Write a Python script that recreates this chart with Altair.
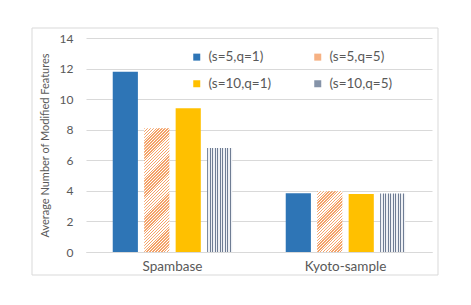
import altair as alt
import pandas as pd

datasets = ["Spambase", "Kyoto-sample"]
series = ["(s=5,q=1)", "(s=5,q=5)", "(s=10,q=1)", "(s=10,q=5)"]
values = {
    "(s=5,q=1)": [11.8, 3.85],
    "(s=5,q=5)": [8.1, 3.97],
    "(s=10,q=1)": [9.4, 3.8],
    "(s=10,q=5)": [6.8, 3.82],
}
colors = ["#2E75B6", "#F6B183", "#FFC000", "#8593A8"]
y_ticks = [0, 2, 4, 6, 8, 10, 12, 14]

rows = []
for s in series:
    for d, v in zip(datasets, values[s]):
        rows.append({"dataset": d, "series": s, "value": v})
df = pd.DataFrame(rows)

W, H = 346, 214
YMAX = 14
FONT = "Lato"
TXT = "#595959"
GRID = "#D9D9D9"

# band geometry for gradient computations
group_w = W / len(datasets)
xo_pi, xo_po = 0.2, 0.85
step = group_w / (len(series) - xo_pi + 2 * xo_po)
bar_w = step * (1 - xo_pi)

x_enc = alt.X("dataset:N", sort=datasets,
              scale=alt.Scale(paddingInner=0, paddingOuter=0),
              axis=alt.Axis(title=None, labelFont=FONT, labelFontSize=13.5,
                            labelColor=TXT, ticks=False, domainColor=GRID,
                            labelPadding=7, labelAngle=0))
xo_enc = alt.XOffset("series:N", sort=series,
                     scale=alt.Scale(domain=series, paddingInner=xo_pi, paddingOuter=xo_po))
y_enc = alt.Y("value:Q", scale=alt.Scale(domain=[0, YMAX]),
              axis=alt.Axis(title="Average Number of Modified Features",
                            values=y_ticks, titleFont=FONT, titleFontSize=11,
                            titleFontWeight="normal", titleColor=TXT,
                            labelFont=FONT, labelFontSize=12, labelColor=TXT,
                            ticks=False, domain=False, gridColor=GRID,
                            labelPadding=13, titlePadding=9))

base = alt.Chart(df).encode(x=x_enc, xOffset=xo_enc, y=y_enc)

solid = base.mark_bar().encode(
    color=alt.Color("series:N", sort=series,
                    scale=alt.Scale(domain=series, range=colors),
                    legend=alt.Legend(title=None, orient="none", legendX=104, legendY=12,
                                      columns=2, direction="horizontal",
                                      symbolType="square", symbolSize=49,
                                      symbolStrokeWidth=0, labelFont=FONT,
                                      labelFontSize=13.5, labelColor=TXT,
                                      rowPadding=12, columnPadding=39,
                                      labelOffset=5, padding=0))
).transform_filter(alt.FieldOneOfPredicate(field="series", oneOf=[series[0], series[2]]))


def vstripes(dark, light, n):
    stops = []
    for i in range(n):
        a, b = i / n, (i + 0.5) / n
        c = (i + 1) / n
        stops += [alt.GradientStop(color=dark, offset=a), alt.GradientStop(color=dark, offset=b),
                  alt.GradientStop(color=light, offset=b), alt.GradientStop(color=light, offset=c)]
    return stops


gray_grad = alt.LinearGradient(gradient="linear", x1=0, y1=0, x2=1, y2=0,
                               stops=vstripes("#6F7D94", "#EEF0F4", 10))
striped = base.mark_bar(fill=gray_grad).transform_filter(
    alt.FieldEqualPredicate(field="series", equal=series[3]))

layers = [solid, striped]

period = 2.9
for d, v in zip(datasets, values[series[1]]):
    h = v * H / YMAX
    w = bar_w
    k = (w + h) / (w * w + h * h)
    n = max(1, int(round((w + h) / period)))
    grad = alt.LinearGradient(gradient="linear", x1=0, y1=0, x2=k * w, y2=k * h,
                              stops=vstripes("#F4A268", "#FFFFFF", n))
    layers.append(
        base.mark_bar(fill=grad).transform_filter(
            (alt.datum.series == series[1]) & (alt.datum.dataset == d))
    )

border = alt.Chart(pd.DataFrame({"k": [0]})).mark_rect(
    fill=None, stroke="#D9D9D9", strokeWidth=1).encode(
    x=alt.value(-54), x2=alt.value(352), y=alt.value(-10), y2=alt.value(237))

chart = alt.layer(border, *layers).properties(
    width=W, height=H, background="white",
    padding={"left": 78, "top": 30, "right": 30, "bottom": 40},
    autosize=alt.AutoSizeParams(type="none"),
).configure_view(stroke=None)

chart.save("out.html", embed_options={"renderer": "svg", "actions": False})
